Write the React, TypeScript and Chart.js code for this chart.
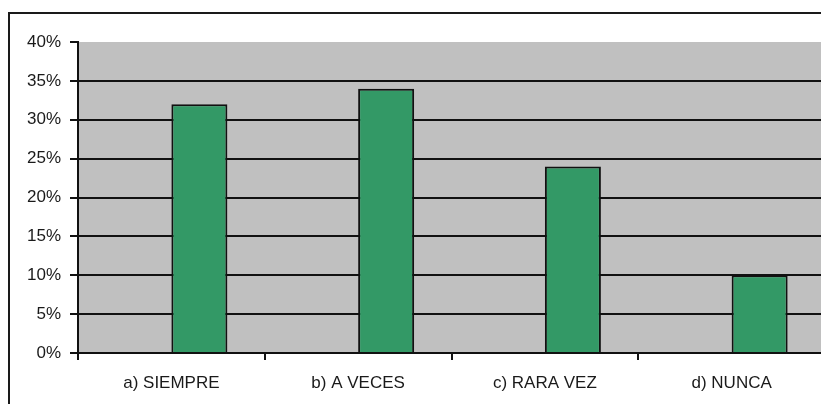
import React, { useEffect, useRef } from "react";
import { Chart, registerables } from "chart.js";

Chart.register(...registerables);

const categories = ["a) SIEMPRE", "b) A VECES", "c) RARA VEZ", "d) NUNCA"];
const values = [32, 34, 24, 10];
const emptySeries = [null, null, null, null];
const yTicks = [0, 5, 10, 15, 20, 25, 30, 35, 40];

const framePlugin = {
  id: "frame",
  beforeDraw(chart: any) {
    const { ctx, chartArea } = chart;
    ctx.save();
    ctx.fillStyle = "#ffffff";
    ctx.fillRect(0, 0, chart.width, chart.height);
    ctx.strokeStyle = "#1a1a1a";
    ctx.lineWidth = 2;
    ctx.strokeRect(9, 13, chart.width + 50, chart.height + 50);
    ctx.fillStyle = "#c0c0c0";
    ctx.fillRect(chartArea.left, chartArea.top, chartArea.right - chartArea.left, chartArea.bottom - chartArea.top);
    ctx.restore();
  },
};

export default function App() {
  const ref = useRef<HTMLCanvasElement>(null);
  useEffect(() => {
    if (!ref.current) return;
    const font = { family: "'Liberation Sans', Arial, sans-serif", size: 17 };
    const chart = new Chart(ref.current, {
      type: "bar",
      data: {
        labels: categories,
        datasets: [
          { data: emptySeries as any, backgroundColor: "transparent" },
          {
            data: values,
            backgroundColor: "#339966",
            borderColor: "#111111",
            borderWidth: 2,
          },
        ],
      },
      options: {
        responsive: false,
        animation: false,
        events: [],
        layout: { padding: { left: 0, right: 15, top: 42, bottom: 0 } },
        datasets: { bar: { categoryPercentage: 0.6, barPercentage: 1 } } as any,
        plugins: { legend: { display: false }, tooltip: { enabled: false } },
        scales: {
          x: {
            afterFit(scale: any) {
              scale.height = 51;
            },
            grid: {
              offset: true,
              drawOnChartArea: false,
              drawTicks: true,
              tickLength: 7,
              tickColor: "#111111",
              lineWidth: 2,
            },
            border: { color: "#111111", width: 2 },
            ticks: { color: "#1a1a1a", font, padding: 13, maxRotation: 0, autoSkip: false },
          },
          y: {
            min: 0,
            max: 40,
            afterFit(scale: any) {
              scale.width = 78;
            },
            afterBuildTicks(scale: any) {
              scale.ticks = yTicks.map((v) => ({ value: v }));
            },
            grid: {
              color: (c: any) => (c.tick && c.tick.value === 40 ? "rgba(0,0,0,0)" : "#111111"),
              tickColor: "#111111",
              lineWidth: 2,
              tickLength: 8,
            },
            border: { color: "#111111", width: 2 },
            ticks: {
              color: "#1a1a1a",
              font,
              padding: 9,
              callback: (v: any) => v + "%",
            },
          },
        },
      },
      plugins: [framePlugin],
    });
    return () => chart.destroy();
  }, []);
  return (
    <div style={{ position: "absolute", left: 0, top: 0, width: 840, height: 404, overflow: "hidden" }}>
      <canvas ref={ref} width={840} height={404} />
    </div>
  );
}
